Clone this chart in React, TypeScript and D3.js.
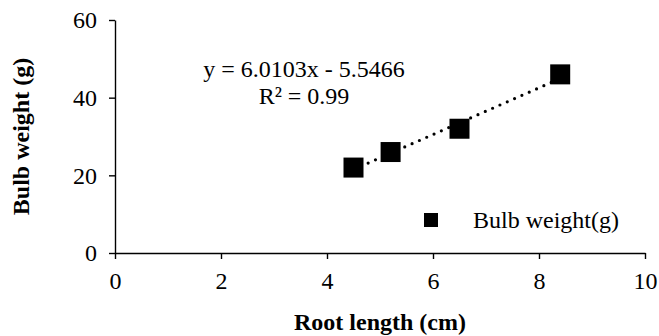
import React, { useRef, useEffect } from "react"
import * as d3 from "d3"

const rootLength = [4.5, 5.2, 6.5, 8.4]
const bulbWeight = [22, 26, 32, 46]
const xTicks = [0, 2, 4, 6, 8, 10]
const yTicks = [0, 20, 40, 60]
const slope = 6.0103
const intercept = -5.5466
const equationLabel = "y = 6.0103x - 5.5466"
const r2Label = "R² = 0.99"
const seriesName = "Bulb weight(g)"
const xTitle = "Root length (cm)"
const yTitle = "Bulb weight (g)"

const FONT = "'Liberation Serif', 'Times New Roman', serif"

const App = () => {
  const svgRef = useRef<SVGSVGElement | null>(null)

  useEffect(() => {
    const W = 659
    const H = 336
    const margin = { top: 20, right: 14, bottom: 83, left: 115 }
    const width = W - margin.left - margin.right
    const height = H - margin.top - margin.bottom

    const root = d3.select(svgRef.current)
    root.selectAll("*").remove()
    root.attr("width", W).attr("height", H)

    const svg = root.append("g").attr("transform", `translate(${margin.left},${margin.top})`)

    const x = d3.scaleLinear().domain([0, 10]).range([0, width])
    const y = d3.scaleLinear().domain([0, 60]).range([height, 0])

    // axes
    const xAxis = svg
      .append("g")
      .attr("transform", `translate(0,${height})`)
      .call(d3.axisBottom(x).tickValues(xTicks).tickSize(6).tickSizeOuter(0).tickPadding(13).tickFormat(d3.format("d")))
    const yAxis = svg
      .append("g")
      .call(d3.axisLeft(y).tickValues(yTicks).tickSize(6).tickSizeOuter(0).tickPadding(12).tickFormat(d3.format("d")))

    ;[xAxis, yAxis].forEach((a) => {
      a.attr("font-family", FONT)
      a.select(".domain").attr("stroke", "#000").attr("stroke-width", 1.4)
      a.selectAll(".tick line").attr("stroke", "#000").attr("stroke-width", 1.4)
      a.selectAll(".tick text").attr("fill", "#000").style("font-family", FONT).style("font-size", "24px")
    })

    // trendline
    const xMin = d3.min(rootLength) as number
    const xMax = d3.max(rootLength) as number
    const trend = [xMin, xMax].map((v) => [v, slope * v + intercept])
    svg
      .append("path")
      .datum(trend)
      .attr("fill", "none")
      .attr("stroke", "#000")
      .attr("stroke-width", 3.2)
      .attr("stroke-linecap", "round")
      .attr("stroke-dasharray", "0 8")
      .attr("d", d3.line<number[]>().x((d) => x(d[0])).y((d) => y(d[1])))

    // points
    const sz = 20
    svg
      .selectAll(".pt")
      .data(rootLength.map((v, i) => ({ x: v, y: bulbWeight[i] })))
      .enter()
      .append("rect")
      .attr("x", (d) => x(d.x) - sz / 2)
      .attr("y", (d) => y(d.y) - sz / 2)
      .attr("width", sz)
      .attr("height", sz)
      .attr("fill", "#000")

    // equation label
    const eq = svg.append("text").style("font-family", FONT).style("font-size", "24px").attr("text-anchor", "middle")
    eq.append("tspan").attr("x", 189).attr("y", 57).text(equationLabel)
    eq.append("tspan").attr("x", 189).attr("y", 84).text(r2Label)

    // legend
    svg.append("rect").attr("x", 309).attr("y", 193).attr("width", 14).attr("height", 14).attr("fill", "#000")
    svg
      .append("text")
      .attr("x", 358)
      .attr("y", 208)
      .style("font-family", FONT)
      .style("font-size", "24px")
      .text(seriesName)

    // axis titles
    root
      .append("text")
      .attr("x", margin.left + width / 2)
      .attr("y", 330)
      .attr("text-anchor", "middle")
      .style("font-family", FONT)
      .style("font-size", "24px")
      .style("font-weight", "bold")
      .text(xTitle)
    root
      .append("text")
      .attr("transform", `translate(29,${margin.top + height / 2}) rotate(-90)`)
      .attr("text-anchor", "middle")
      .style("font-family", FONT)
      .style("font-size", "24px")
      .style("font-weight", "bold")
      .text(yTitle)
  }, [])

  return (
    <div style={{ position: "fixed", left: 0, top: 0, background: "#fff" }}>
      <svg ref={svgRef} style={{ display: "block" }}></svg>
    </div>
  )
}

export default App
